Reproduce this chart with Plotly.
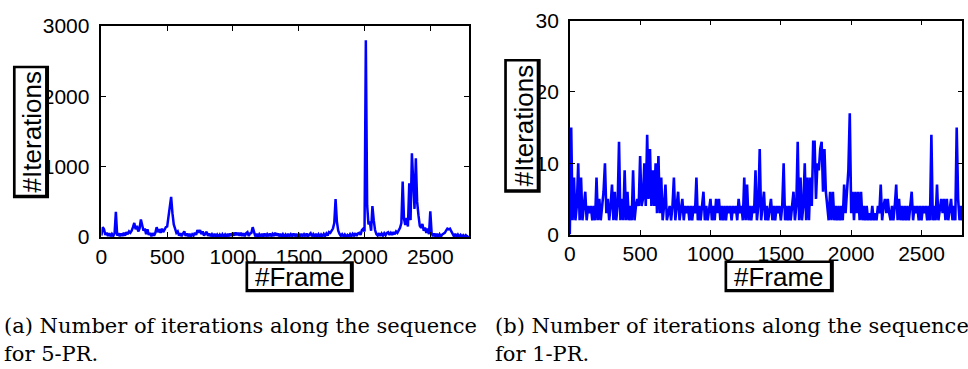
import plotly.graph_objects as go

W, H = 968, 369

# ---------------- data (one value every 10 frames) ----
frames = list(range(0, 2800, 10))

iters_5pr = [
    20, 140, 110, 30, 60, 15, 55, 10, 45, 15,          # 0
    50, 360, 20, 55, 10, 50, 15, 60, 20, 70,           # 100
    40, 80, 60, 90, 140, 200, 110, 160, 80, 120,       # 200
    250, 180, 90, 120, 40, 110, 30, 60, 10, 55,        # 300
    20, 60, 140, 70, 110, 60, 120, 70, 110, 140,       # 400
    150, 300, 440, 570, 340, 180, 120, 60, 80, 20,     # 500
    55, 10, 50, 80, 15, 50, 10, 45, 10, 40,            # 600
    20, 60, 30, 100, 60, 100, 40, 80, 20, 55,          # 700
    75, 15, 50, 10, 40, 5, 45, 10, 35, 5,              # 800
    35, 5, 40, 10, 35, 5, 45, 10, 50, 15,              # 900
    60, 20, 65, 25, 60, 20, 60, 15, 55, 10,            # 1000
    55, 70, 15, 50, 60, 140, 55, 10, 45, 5,            # 1100
    40, 10, 45, 5, 50, 10, 40, 10, 50, 10,             # 1200
    45, 15, 60, 20, 50, 10, 45, 5, 40, 10,             # 1300
    35, 5, 45, 10, 40, 15, 50, 10, 45, 10,             # 1400
    40, 5, 45, 15, 40, 10, 50, 5, 35, 55,              # 1500
    10, 40, 5, 45, 10, 40, 5, 35, 10, 45,              # 1600
    15, 50, 20, 70, 60, 90, 120, 200, 540, 220,        # 1700
    90, 45, 15, 40, 10, 35, 5, 30, 10, 40,             # 1800
    10, 45, 20, 55, 15, 50, 60, 30, 100, 120,          # 1900
    80, 2800, 450, 180, 220, 90, 440, 240, 100, 40,    # 2000
    20, 55, 15, 50, 20, 55, 25, 60, 70, 30,            # 2100
    60, 30, 70, 40, 80, 60, 100, 130, 200, 790,        # 2200
    260, 170, 270, 150, 764, 240, 1190, 790, 400, 1120,  # 2300
    500, 310, 160, 130, 187, 90, 133, 60, 120, 40,     # 2400
    364, 60, 10, 50, 5, 45, 10, 40, 5, 35,             # 2500
    45, 60, 90, 120, 110, 120, 80, 50, 10, 45,         # 2600
    5, 35, 5, 30, 3, 25, 2, 25, 3, 20,                 # 2700
]

iters_1pr = [
    0, 15, 2, 8, 2, 4, 10, 2, 8, 2,        # 0
    4, 6, 2, 4, 3, 4, 2, 4, 2, 8,          # 100
    2, 5, 2, 4, 6, 10, 3, 5, 2, 4,         # 200
    7, 2, 6, 2, 4, 13, 2, 5, 2, 9,         # 300
    2, 6, 2, 4, 2, 9, 2, 4, 5, 4,          # 400
    11, 4, 5, 10, 4, 14, 5, 12, 4, 9,      # 500
    4, 10, 3, 11, 3, 8, 2, 4, 7, 2,        # 600
    3, 4, 2, 4, 8, 2, 4, 6, 2, 4,          # 700
    5, 2, 4, 3, 4, 2, 4, 2, 4, 3,          # 800
    8, 2, 4, 2, 4, 6, 2, 4, 2, 4,          # 900
    5, 2, 4, 2, 5, 3, 5, 2, 4, 2,          # 1000
    4, 2, 4, 3, 4, 2, 4, 3, 4, 2,          # 1100
    5, 3, 4, 2, 8, 2, 7, 2, 4, 2,          # 1200
    4, 3, 9, 2, 4, 12, 2, 4, 6, 2,         # 1300
    4, 2, 4, 5, 2, 4, 2, 4, 3, 4,          # 1400
    2, 4, 10, 2, 4, 2, 4, 2, 4, 6,         # 1500
    2, 4, 13, 2, 8, 2, 4, 10, 2, 8,        # 1600
    2, 8, 4, 13, 13, 5, 10, 9, 12, 13,     # 1700
    6, 12, 6, 4, 2, 6, 2, 6, 2, 4,         # 1800
    2, 4, 2, 4, 2, 7, 3, 6, 9, 17,         # 1900
    3, 6, 2, 6, 3, 6, 2, 6, 2, 4,          # 2000
    2, 4, 2, 3, 2, 4, 2, 3, 2, 4,          # 2100
    3, 7, 2, 4, 5, 3, 5, 3, 2, 4,          # 2200
    2, 4, 7, 2, 5, 2, 4, 2, 4, 2,          # 2300
    4, 2, 4, 6, 2, 4, 3, 4, 2, 4,          # 2400
    2, 4, 3, 4, 2, 4, 2, 14, 2, 4,         # 2500
    2, 7, 2, 4, 5, 3, 5, 2, 5, 2,          # 2600
    4, 5, 2, 4, 2, 15, 5, 2, 4, 2,         # 2700
]

x_ticks = [0, 500, 1000, 1500, 2000, 2500]
y_ticks_5pr = [0, 1000, 2000, 3000]
y_ticks_1pr = [0, 10, 20, 30]

x_label = "#Frame"
y_label = "#Iterations"
captions = [
    ("(a) Number of iterations along the sequence", "for 5-PR."),
    ("(b) Number of iterations along the sequence", "for 1-PR."),
]

assert len(iters_5pr) == len(frames) and len(iters_1pr) == len(frames)

# ---------------- figure -------------------------------------------------------
def px(p):
    return p / W


def py(p):
    return 1 - p / H


BLUE = "#0000ff"
fig = go.Figure()
fig.add_trace(go.Scatter(x=frames, y=iters_5pr, mode="lines",
                         line=dict(color=BLUE, width=2.5), xaxis="x", yaxis="y",
                         showlegend=False))
fig.add_trace(go.Scatter(x=frames, y=iters_1pr, mode="lines",
                         line=dict(color=BLUE, width=2.6), xaxis="x2", yaxis="y2",
                         showlegend=False))

tickfont = dict(family="Liberation Sans, Arial, sans-serif", size=21, color="black")
common = dict(showline=True, linecolor="black", linewidth=1.5, mirror="ticks",
              ticks="inside", ticklen=5, tickwidth=1, tickcolor="black",
              showgrid=False, zeroline=False, tickfont=tickfont)

fig.update_layout(
    width=W, height=H,
    margin=dict(l=0, r=0, t=0, b=0),
    paper_bgcolor="white", plot_bgcolor="white",
    xaxis=dict(domain=[px(96), px(466)], range=[0, 2795], tickvals=x_ticks,
               anchor="y", **common),
    yaxis=dict(domain=[py(240), py(15)], range=[0, 3000], tickvals=y_ticks_5pr,
               anchor="x", ticklabelstandoff=6, **common),
    xaxis2=dict(domain=[px(567.3), px(962.3)], range=[0, 2790], tickvals=x_ticks,
                anchor="y2", **common),
    yaxis2=dict(domain=[py(237.3), py(9.3)], range=[0, 30], tickvals=y_ticks_1pr,
                anchor="x2", ticklabelstandoff=5, **common),
)

shapes = []
annotations = []
labfont = dict(family="Liberation Sans, Arial, sans-serif", size=26, color="black")


def boxed(x0, y0, x1, y1, text, cx, cy, angle=0):
    shapes.append(dict(type="rect", xref="paper", yref="paper",
                       x0=px(x0), x1=px(x1), y0=py(y1), y1=py(y0),
                       fillcolor="black", line=dict(width=0), layer="above"))
    shapes.append(dict(type="rect", xref="paper", yref="paper",
                       x0=px(x0 + 2.7), x1=px(x1 - 4), y0=py(y1 - 3.7), y1=py(y0 + 2.7),
                       fillcolor="white", line=dict(width=0), layer="above"))
    annotations.append(dict(text=text, xref="paper", yref="paper", x=px(cx), y=py(cy),
                            xanchor="center", yanchor="middle", showarrow=False,
                            textangle=angle, font=labfont))


boxed(7, 57.3, 43.3, 198.7, y_label, 26, 127.5, -90)
boxed(501.3, 50, 538, 192.7, y_label, 521.2, 120.8, -90)
boxed(241, 265.7, 350, 299, x_label, 295.8, 282.5)
boxed(723, 265, 833, 299, x_label, 778.3, 282.5)

capfont = dict(family="DejaVu Serif, serif", size=21, color="black")
for (l1, l2), x0 in zip(captions, [-4.5, 490]):
    annotations.append(dict(text=l1, xref="paper", yref="paper", x=px(x0), y=py(334.5),
                            xanchor="left", yanchor="middle", showarrow=False, font=capfont))
    annotations.append(dict(text=l2, xref="paper", yref="paper", x=px(x0), y=py(364.5),
                            xanchor="left", yanchor="middle", showarrow=False, font=capfont))

fig.update_layout(shapes=shapes, annotations=annotations)
fig.write_html("out.html")
